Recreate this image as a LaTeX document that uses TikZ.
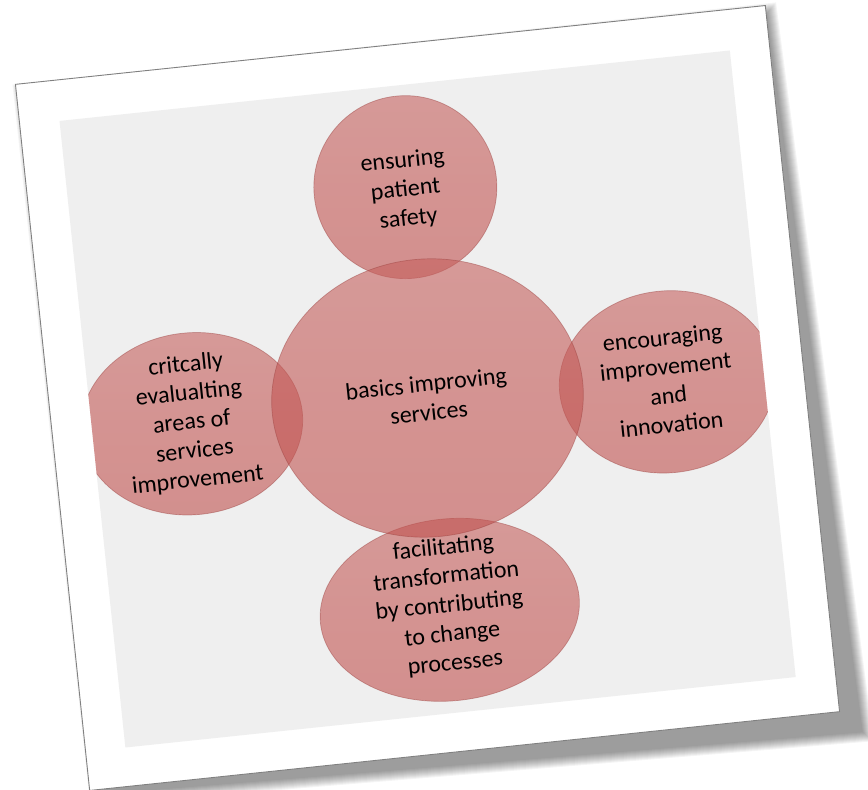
\documentclass[tikz,border=0pt]{standalone}
\usepackage{fontspec}
\setmainfont{Carlito}
\definecolor{bubblered}{RGB}{192,80,77}
\definecolor{mountgray}{RGB}{239,239,239}

\begin{document}
\begin{tikzpicture}[x=1pt,y=1pt,
    bubble/.style={top color=bubblered!90,bottom color=bubblered,
        middle color=bubblered!96,fill opacity=0.6,
        draw=bubblered!80!black,draw opacity=0.45,line width=0.7pt},
    bubbletext/.style={align=center,text=black,inner sep=0pt,
        font=\fontsize{24}{29}\selectfont}]
  \useasboundingbox (0,0) rectangle (868,790);
  \begin{scope}[shift={(427.5,392)},rotate=6,transform shape]
    % Soft shadow under the card, heavier towards the lower right.
    \foreach \k in {0,...,10}{
      \fill[black,opacity=0.045] ({-370-\k},{345+\k}) -- ({378+\k},{347+\k})
        -- ({398+\k},{-378-\k}) -- ({-368-\k},{-360-\k}) -- cycle;
    }
    % Card and grey mount.
    \filldraw[fill=white,draw=black!50,line width=0.9pt]
        (-377,-355) rectangle (377,355);
    \fill[mountgray] (-337,-316) rectangle (337,314);

    % Side bubbles, cut off by the mount.
    \begin{scope}
      \clip (-337,-316) rectangle (337,314);
      \path[bubble] (-237,-1) ellipse [x radius=111,y radius=91];
      \path[bubble] (240,-9) ellipse [x radius=108,y radius=91];
    \end{scope}
    \path[bubble] (0,212) circle (91.5);
    \path[bubble] (0,-213) ellipse [x radius=130,y radius=91];
    \path[bubble] (0,0) ellipse [x radius=156,y radius=139];

    % Texts.
    \node[bubbletext] (basics) at (0,0) {basics improving\\services};
    \node[bubbletext] (safety) at (0,209) {ensuring\\patient\\safety};
    \node[bubbletext] (innovation) at (240,-8)
        {encouraging\\improvement\\and\\innovation};
    \node[bubbletext] (evaluating) at (-237,0)
        {critcally\\evalualting\\areas of\\services\\improvement};
    \node[bubbletext] (transformation) at (0,-209)
        {facilitating\\transformation\\by contributing\\to change\\processes};
  \end{scope}
\end{tikzpicture}
\end{document}
